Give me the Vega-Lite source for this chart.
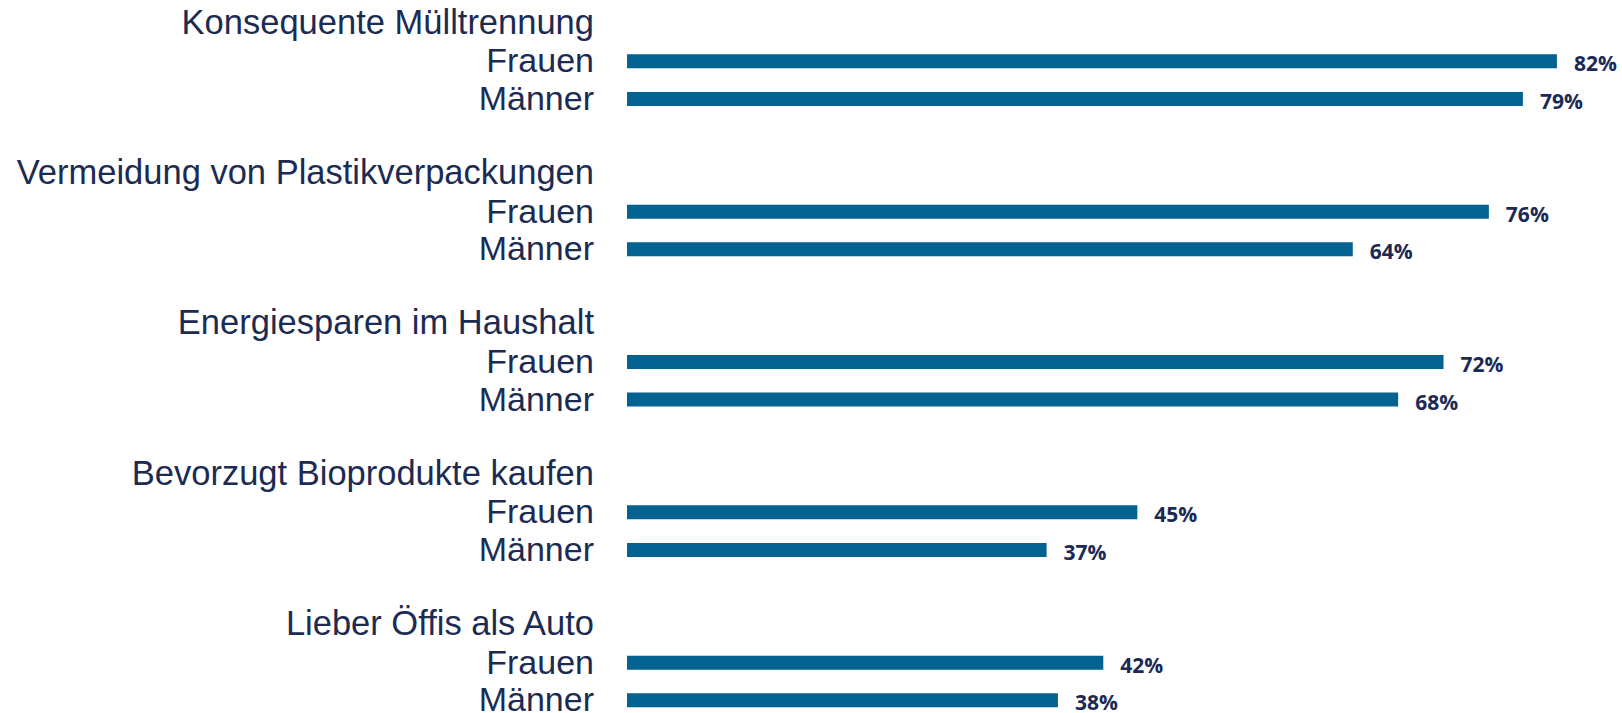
{
  "$schema": "https://vega.github.io/schema/vega-lite/v6.json",
  "autosize": {"type": "none"},
  "width": 995,
  "height": 714,
  "padding": {"left": 627, "top": 5, "right": 0, "bottom": 0},
  "background": "white",
  "config": {"view": {"stroke": null}},
  "data": {
    "values": [
      {"row": 0, "label": "Konsequente Mülltrennung", "kind": "header"},
      {"row": 1, "label": "Frauen", "kind": "bar", "value": 82},
      {"row": 2, "label": "Männer", "kind": "bar", "value": 79},
      {"row": 4, "label": "Vermeidung von Plastikverpackungen", "kind": "header"},
      {"row": 5, "label": "Frauen", "kind": "bar", "value": 76},
      {"row": 6, "label": "Männer", "kind": "bar", "value": 64},
      {"row": 8, "label": "Energiesparen im Haushalt", "kind": "header"},
      {"row": 9, "label": "Frauen", "kind": "bar", "value": 72},
      {"row": 10, "label": "Männer", "kind": "bar", "value": 68},
      {"row": 12, "label": "Bevorzugt Bioprodukte kaufen", "kind": "header"},
      {"row": 13, "label": "Frauen", "kind": "bar", "value": 45},
      {"row": 14, "label": "Männer", "kind": "bar", "value": 37},
      {"row": 16, "label": "Lieber Öffis als Auto", "kind": "header"},
      {"row": 17, "label": "Frauen", "kind": "bar", "value": 42},
      {"row": 18, "label": "Männer", "kind": "bar", "value": 38}
    ]
  },
  "encoding": {
    "y": {
      "field": "row",
      "type": "ordinal",
      "scale": {"domain": [0,1,2,3,4,5,6,7,8,9,10,11,12,13,14,15,16,17,18], "paddingInner": 0, "paddingOuter": 0},
      "axis": null
    }
  },
  "layer": [
    {
      "transform": [{"filter": "datum.kind === 'bar'"}],
      "mark": {"type": "bar", "height": 14, "color": "#046290"},
      "encoding": {
        "x": {"field": "value", "type": "quantitative", "scale": {"domain": [0, 87.74], "nice": false, "zero": true}, "axis": null}
      }
    },
    {
      "transform": [{"filter": "datum.kind === 'bar'"}, {"calculate": "datum.value + '%'", "as": "pct"}],
      "mark": {"type": "text", "align": "left", "baseline": "alphabetic", "dx": 17, "dy": 10, "font": "Open Sans", "fontWeight": "bold", "fontSize": 21, "color": "#1b2a55"},
      "encoding": {
        "x": {"field": "value", "type": "quantitative"},
        "text": {"field": "pct", "type": "nominal"}
      }
    },
    {
      "transform": [{"filter": "datum.kind === 'bar'"}],
      "mark": {"type": "text", "align": "right", "baseline": "alphabetic", "dx": -33, "dy": 11, "font": "Liberation Sans", "fontSize": 34, "color": "#1c2b52"},
      "encoding": {"x": {"datum": 0}, "text": {"field": "label"}}
    },
    {
      "transform": [{"filter": "datum.kind === 'header'"}],
      "mark": {"type": "text", "align": "right", "baseline": "alphabetic", "dx": -33, "dy": 10, "font": "Liberation Sans", "fontSize": 34.5, "color": "#1c2b52"},
      "encoding": {"x": {"datum": 0}, "text": {"field": "label"}}
    }
  ]
}
